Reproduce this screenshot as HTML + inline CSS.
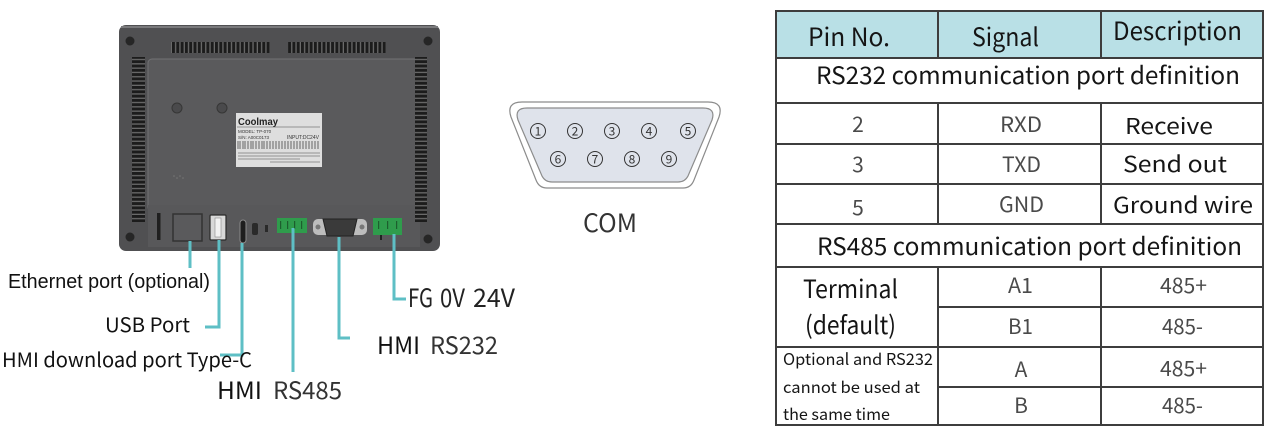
<!DOCTYPE html>
<html>
<head>
<meta charset="utf-8">
<style>
html,body{margin:0;padding:0;background:#fff;}
svg{display:block;}
.h{font-family:"Noto Sans CJK SC","Liberation Sans",sans-serif;}
.a{font-family:"Liberation Sans",Arial,sans-serif;}
</style>
</head>
<body>
<svg width="1279" height="432" viewBox="0 0 1279 432" xmlns="http://www.w3.org/2000/svg">
<defs>
<pattern id="vv" x="0" y="0" width="4.3" height="12" patternUnits="userSpaceOnUse">
<rect width="4.3" height="12" fill="#1c1c1c"/>
<rect x="3" width="1.3" height="12" fill="#6a6a6a"/>
</pattern>
<pattern id="vh" x="0" y="0" width="14" height="4.3" patternUnits="userSpaceOnUse">
<rect width="14" height="4.3" fill="#1c1c1c"/>
<rect y="3" width="14" height="1.3" fill="#6a6a6a"/>
</pattern>
</defs>
<rect width="1279" height="432" fill="#fff"/>

<!-- ===== Device ===== -->
<rect x="119" y="25" width="321" height="226" rx="7" fill="#505052"/>
<rect x="121" y="26" width="317" height="2" fill="#7a7a7c"/>
<rect x="148" y="59" width="270" height="152" rx="4" fill="#5a5a5c" stroke="#727274" stroke-width="1"/>
<rect x="148" y="205" width="272" height="42" fill="#58585a"/>
<!-- vents -->
<rect x="171" y="42" width="99" height="11" fill="url(#vv)"/>
<rect x="288" y="42" width="98" height="11" fill="url(#vv)"/>
<rect x="132" y="57" width="13" height="165" fill="url(#vh)"/>
<rect x="415" y="57" width="12" height="165" fill="url(#vh)"/>
<!-- screws -->
<circle cx="130" cy="41" r="4.5" fill="#262626"/>
<circle cx="428" cy="41" r="4.5" fill="#262626"/>
<circle cx="130" cy="237" r="4.5" fill="#262626"/>
<circle cx="428" cy="239" r="4.5" fill="#262626"/>
<circle cx="177" cy="108" r="5" fill="#4a4a4c" stroke="#363636"/>
<circle cx="222" cy="108" r="5" fill="#4a4a4c" stroke="#363636"/>
<g fill="#777"><circle cx="174" cy="176" r="0.8"/><circle cx="177" cy="178" r="0.8"/><circle cx="180" cy="176" r="0.8"/><circle cx="183" cy="178" r="0.8"/></g>
<!-- label -->
<rect x="236" y="113" width="86" height="54" fill="#dedede"/>
<text x="238" y="125" class="a" font-size="10" font-weight="bold" fill="#222" textLength="40" lengthAdjust="spacingAndGlyphs">Coolmay</text>
<line x1="237" y1="127" x2="320" y2="127" stroke="#444" stroke-width="0.6"/>
<text x="238" y="133" class="a" font-size="4.5" fill="#333">MODEL: TP-070</text>
<text x="238" y="139" class="a" font-size="4.5" fill="#333">S/N:  A00C0173</text>
<text x="287" y="139" class="a" font-size="5" fill="#333">INPUT:DC24V</text>
<g stroke="#333" stroke-width="0.7">
<line x1="238" y1="141" x2="238" y2="149"/><line x1="240" y1="141" x2="240" y2="149"/><line x1="243" y1="141" x2="243" y2="149"/><line x1="245" y1="141" x2="245" y2="149"/><line x1="248" y1="141" x2="248" y2="149"/><line x1="251" y1="141" x2="251" y2="149"/><line x1="253" y1="141" x2="253" y2="149"/><line x1="256" y1="141" x2="256" y2="149"/><line x1="259" y1="141" x2="259" y2="149"/><line x1="262" y1="141" x2="262" y2="149"/><line x1="264" y1="141" x2="264" y2="149"/><line x1="267" y1="141" x2="267" y2="149"/><line x1="270" y1="141" x2="270" y2="149"/><line x1="273" y1="141" x2="273" y2="149"/><line x1="276" y1="141" x2="276" y2="149"/><line x1="279" y1="141" x2="279" y2="149"/><line x1="282" y1="141" x2="282" y2="149"/><line x1="285" y1="141" x2="285" y2="149"/><line x1="288" y1="141" x2="288" y2="149"/><line x1="291" y1="141" x2="291" y2="149"/><line x1="294" y1="141" x2="294" y2="149"/><line x1="297" y1="141" x2="297" y2="149"/><line x1="300" y1="141" x2="300" y2="149"/><line x1="303" y1="141" x2="303" y2="149"/><line x1="306" y1="141" x2="306" y2="149"/><line x1="309" y1="141" x2="309" y2="149"/><line x1="312" y1="141" x2="312" y2="149"/><line x1="315" y1="141" x2="315" y2="149"/><line x1="318" y1="141" x2="318" y2="149"/>
</g>
<g stroke="#777" stroke-width="0.8">
<line x1="238" y1="153" x2="320" y2="153"/><line x1="238" y1="156" x2="320" y2="156"/><line x1="238" y1="159" x2="300" y2="159"/><line x1="270" y1="162" x2="320" y2="162"/>
</g>
<!-- ports -->
<rect x="157" y="213" width="3.5" height="27" fill="#1f1f1f"/>
<rect x="173" y="214" width="29" height="27" fill="#5a5a5c" stroke="#333" stroke-width="1.5"/>
<rect x="210" y="215" width="16" height="25" rx="1" fill="#d8d8d8" stroke="#2a2a2a" stroke-width="1.2"/>
<rect x="215" y="218" width="6" height="19" fill="#f2f2f2" stroke="#888" stroke-width="0.6"/>
<rect x="240" y="220" width="6" height="23" rx="3" fill="#1e1e1e" stroke="#8a8a8a" stroke-width="1"/>
<rect x="252" y="223" width="6" height="12" rx="2" fill="#2a2a2a"/>
<rect x="265" y="225" width="3" height="7" fill="#2a2a2a"/>
<rect x="277" y="218" width="30" height="15" fill="#2f9c4c"/>
<g fill="#1d5e2e"><rect x="280" y="221" width="1.2" height="8"/><rect x="287" y="221" width="1.2" height="8"/><rect x="294" y="221" width="1.2" height="8"/><rect x="301" y="221" width="1.2" height="8"/></g>
<rect x="313" y="219" width="54" height="16" rx="5" fill="#bdbdbd"/>
<path d="M323,219 L357,219 L353,236 L327,236 Z" fill="#3a3a3a" stroke="#222" stroke-width="1"/>
<circle cx="318" cy="227" r="2.5" fill="#777"/><circle cx="362" cy="227" r="2.5" fill="#777"/>
<rect x="373" y="218" width="29" height="17" fill="#2f9c4c"/>
<g fill="#1d5e2e"><rect x="378" y="221" width="1.2" height="8"/><rect x="387" y="221" width="1.2" height="8"/><rect x="396" y="221" width="1.2" height="8"/></g>
<rect x="380" y="235" width="2" height="5" fill="#222"/>

<!-- connector lines -->
<g stroke="#5ebfc5" stroke-width="3" fill="none">
<polyline points="190,241 190,268"/>
<polyline points="219,240 219,327 205,327"/>
<polyline points="242,243 242,355 220,355"/>
<polyline points="293,228 293,372"/>
<polyline points="339,237 339,338 350,338"/>
<polyline points="394,234 394,299 406,299"/>
</g>

<!-- labels -->
<text x="8" y="288" class="a" font-size="20" fill="#111" textLength="202" lengthAdjust="spacingAndGlyphs">Ethernet port (optional)</text>
<text x="105" y="332" class="h" font-size="20" fill="#111" textLength="85" lengthAdjust="spacingAndGlyphs">USB Port</text>
<text x="2" y="367" class="h" font-size="20" fill="#111" textLength="250" lengthAdjust="spacingAndGlyphs">HMI download port Type-C</text>
<text x="217" y="399" class="h" font-size="24" fill="#111" textLength="45" lengthAdjust="spacingAndGlyphs">HMI</text>
<text x="273" y="399" class="h" font-size="24" fill="#333" textLength="69" lengthAdjust="spacingAndGlyphs">RS485</text>
<text x="377" y="354" class="h" font-size="24" fill="#111" textLength="43" lengthAdjust="spacingAndGlyphs">HMI</text>
<text x="430" y="354" class="h" font-size="24" fill="#333" textLength="68" lengthAdjust="spacingAndGlyphs">RS232</text>
<text x="408" y="307" class="h" font-size="25" fill="#222" textLength="25" lengthAdjust="spacingAndGlyphs">FG</text>
<text x="440" y="307" class="h" font-size="25" fill="#222" textLength="25" lengthAdjust="spacingAndGlyphs">0V</text>
<text x="473" y="307" class="h" font-size="25" fill="#222" textLength="42" lengthAdjust="spacingAndGlyphs">24V</text>

<!-- ===== COM connector ===== -->
<path d="M522,102 L708,102 Q724,102 719,117 L694,180 Q691,188 683,188 L547,188 Q539,188 536,180 L511,117 Q506,102 522,102 Z" fill="#fff" stroke="#8c8c8c" stroke-width="1.2"/>
<path d="M527,108 L703,108 Q716,108 712,120 L688,176 Q685,182 678,182 L552,182 Q545,182 542,176 L518,120 Q514,108 527,108 Z" fill="#dfe3eb" stroke="#8c8c8c" stroke-width="1.2"/>
<g fill="none" stroke="#333" stroke-width="1">
<circle cx="538" cy="131" r="7.5"/><circle cx="575" cy="131" r="7.5"/><circle cx="612" cy="131" r="7.5"/><circle cx="649" cy="131" r="7.5"/><circle cx="688" cy="131" r="7.5"/>
<circle cx="558" cy="159" r="7.5"/><circle cx="595" cy="159" r="7.5"/><circle cx="632" cy="159" r="7.5"/><circle cx="669" cy="159" r="7.5"/>
</g>
<g class="h" font-size="12" fill="#333" text-anchor="middle">
<text x="538" y="135.5">1</text><text x="575" y="135.5">2</text><text x="612" y="135.5">3</text><text x="649" y="135.5">4</text><text x="688" y="135.5">5</text>
<text x="558" y="163.5">6</text><text x="595" y="163.5">7</text><text x="632" y="163.5">8</text><text x="669" y="163.5">9</text>
</g>
<text x="583" y="232" class="h" font-size="25" fill="#333" textLength="54" lengthAdjust="spacingAndGlyphs">COM</text>

<!-- ===== Table ===== -->
<rect x="775" y="11" width="488" height="47" fill="#b9e0e6"/>
<g stroke="#3d3d3d" stroke-width="2" fill="none">
<rect x="776" y="11" width="487" height="414"/>
<line x1="776" y1="58" x2="1263" y2="58"/>
<line x1="776" y1="103" x2="1263" y2="103"/>
<line x1="776" y1="144" x2="1263" y2="144"/>
<line x1="776" y1="184" x2="1263" y2="184"/>
<line x1="776" y1="224" x2="1263" y2="224"/>
<line x1="776" y1="267" x2="1263" y2="267"/>
<line x1="938" y1="307" x2="1263" y2="307"/>
<line x1="776" y1="347" x2="1263" y2="347"/>
<line x1="938" y1="387" x2="1263" y2="387"/>
<line x1="938" y1="11" x2="938" y2="58"/>
<line x1="1101" y1="11" x2="1101" y2="58"/>
<line x1="938" y1="103" x2="938" y2="224"/>
<line x1="1101" y1="103" x2="1101" y2="224"/>
<line x1="938" y1="267" x2="938" y2="425"/>
<line x1="1101" y1="267" x2="1101" y2="425"/>
</g>
<g class="h" fill="#151515">
<text x="808" y="46" font-size="25" textLength="82" lengthAdjust="spacingAndGlyphs">Pin No.</text>
<text x="972" y="46" font-size="25" textLength="67" lengthAdjust="spacingAndGlyphs">Signal</text>
<text x="1113" y="40" font-size="25" textLength="129" lengthAdjust="spacingAndGlyphs">Description</text>
<text x="816" y="84" font-size="24" textLength="424" lengthAdjust="spacingAndGlyphs">RS232 communication port definition</text>
<text x="1125" y="134" font-size="22" textLength="88" lengthAdjust="spacingAndGlyphs">Receive</text>
<text x="1123" y="172" font-size="22" textLength="104" lengthAdjust="spacingAndGlyphs">Send out</text>
<text x="1113" y="213" font-size="22" textLength="140" lengthAdjust="spacingAndGlyphs">Ground wire</text>
<text x="817" y="255" font-size="24" textLength="425" lengthAdjust="spacingAndGlyphs">RS485 communication port definition</text>
<text x="803" y="298" font-size="25" textLength="95" lengthAdjust="spacingAndGlyphs">Terminal</text>
<text x="805" y="334" font-size="25" textLength="91" lengthAdjust="spacingAndGlyphs">(default)</text>
<text x="783" y="365" font-size="16" textLength="150" lengthAdjust="spacingAndGlyphs">Optional and RS232</text>
<text x="783" y="393" font-size="16" textLength="137" lengthAdjust="spacingAndGlyphs">cannot be used at</text>
<text x="783" y="420" font-size="16" textLength="107" lengthAdjust="spacingAndGlyphs">the same time</text>
</g>
<g class="h" fill="#4a4a4a" font-size="21">
<text x="858" y="132" text-anchor="middle">2</text>
<text x="1000" y="132" textLength="42" lengthAdjust="spacingAndGlyphs">RXD</text>
<text x="858" y="172" text-anchor="middle">3</text>
<text x="1002" y="172" textLength="39" lengthAdjust="spacingAndGlyphs">TXD</text>
<text x="858" y="215" text-anchor="middle">5</text>
<text x="999" y="212" textLength="45" lengthAdjust="spacingAndGlyphs">GND</text>
<text x="1008" y="293" textLength="25" lengthAdjust="spacingAndGlyphs">A1</text>
<text x="1160" y="293" textLength="47" lengthAdjust="spacingAndGlyphs">485+</text>
<text x="1008" y="334" textLength="25" lengthAdjust="spacingAndGlyphs">B1</text>
<text x="1162" y="334" textLength="41" lengthAdjust="spacingAndGlyphs">485-</text>
<text x="1021" y="377" text-anchor="middle">A</text>
<text x="1160" y="376" textLength="47" lengthAdjust="spacingAndGlyphs">485+</text>
<text x="1021" y="413" text-anchor="middle">B</text>
<text x="1162" y="413" textLength="41" lengthAdjust="spacingAndGlyphs">485-</text>
</g>
</svg>
</body>
</html>
